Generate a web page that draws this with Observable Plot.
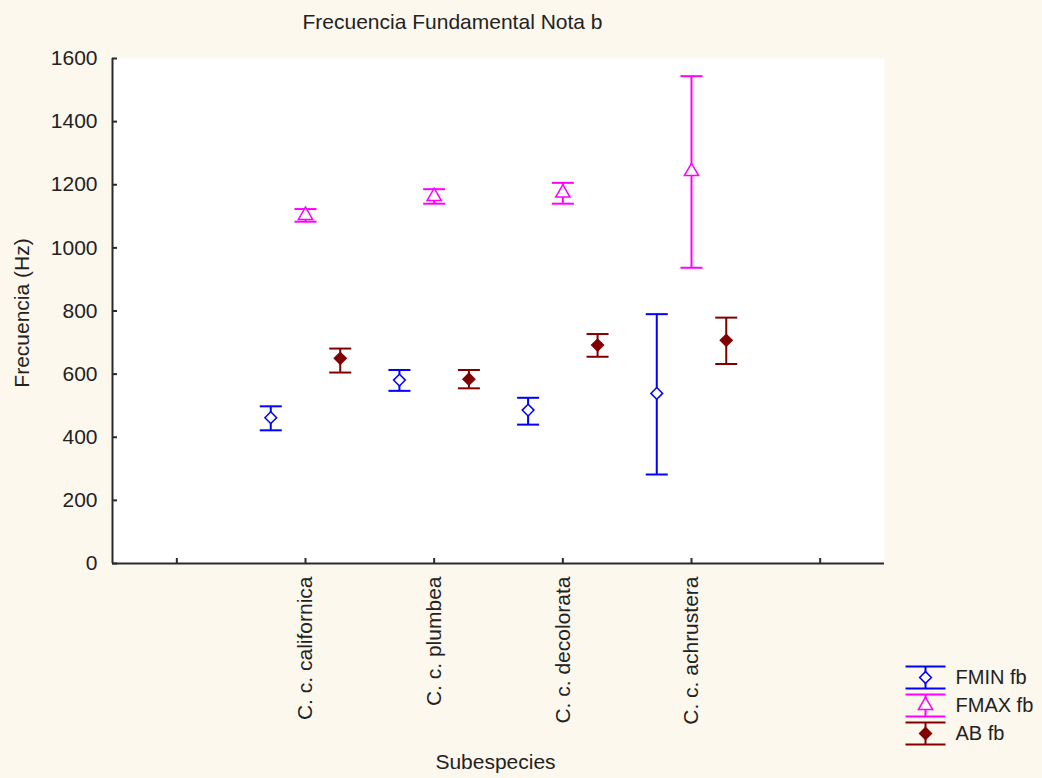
<!DOCTYPE html>
<html>
<head>
<meta charset="utf-8">
<script src="https://cdn.jsdelivr.net/npm/d3@7"></script>
<script src="https://cdn.jsdelivr.net/npm/@observablehq/plot@0.6"></script>
<style>
  html, body { margin: 0; padding: 0; background: #fdf8ee; }
  #chart { position: relative; width: 1042px; height: 778px; }
  #legend { position: absolute; left: 880px; top: 656px; }
</style>
</head>
<body>
<div id="chart"></div>
<script>
// Subspecies on the x axis
const categories = ["C. c. californica", "C. c. plumbea", "C. c. decolorata", "C. c. achrustera"];
const seriesNames = ["FMIN fb", "FMAX fb", "AB fb"];

// Means and interval limits (Hz) per subspecies
const fminMean = [462, 581, 486, 539];
const fminLow  = [422, 547, 440, 282];
const fminHigh = [498, 613, 525, 790];

const fmaxMean = [1103, 1163, 1174, 1242];
const fmaxLow  = [1083, 1140, 1140, 937];
const fmaxHigh = [1123, 1186, 1206, 1544];

const abMean = [650, 584, 692, 707];
const abLow  = [605, 555, 655, 632];
const abHigh = [681, 613, 727, 779];

// Axis ticks
const yTicks = [0, 200, 400, 600, 800, 1000, 1200, 1400, 1600];
const xTickPositions = [0, 1, 2, 3, 4, 5];

// Styling
const seriesColors = ["#0000ff", "#ff00ff", "#800000"];
const seriesSymbols = ["diamond2", "triangle", "diamond2"];
const seriesFills = ["white", "white", "#800000"];
const dodge = [-0.27, 0, 0.27];
const axisColor = "#2a2a2a";
const font = "'Liberation Sans', Arial, sans-serif";

const table = [
  [fminMean, fminLow, fminHigh],
  [fmaxMean, fmaxLow, fmaxHigh],
  [abMean, abLow, abHigh]
];
const rows = seriesNames.flatMap((s, k) =>
  categories.map((c, i) => ({
    series: s, k, category: c, pos: i + 1,
    mean: table[k][0][i], lo: table[k][1][i], hi: table[k][2][i]
  }))
);
const xPos = d => d.pos + dodge[d.k];

// Horizontal whisker cap: a flat line whose half-width is the dot radius
const cap = {
  draw(ctx, size) {
    const r = Math.sqrt(size / Math.PI);
    ctx.moveTo(-r, 0);
    ctx.lineTo(r, 0);
  }
};
// Legend glyph: a full whisker (top cap, stem, bottom cap)
const whisker = {
  draw(ctx, size) {
    const r = Math.sqrt(size / Math.PI);
    const h = 11;
    ctx.moveTo(-r, -h); ctx.lineTo(r, -h);
    ctx.moveTo(-r, h); ctx.lineTo(r, h);
    ctx.moveTo(0, -h); ctx.lineTo(0, h);
  }
};

const chart = Plot.plot({
  width: 1042,
  height: 778,
  marginLeft: 112,
  marginRight: 158,
  marginTop: 58,
  marginBottom: 215,
  style: { background: "transparent", fontSize: "21px", fontFamily: font, color: "#222", overflow: "visible" },
  x: { domain: [-0.5, 5.5], axis: null },
  y: { domain: [0, 1600], axis: null },
  color: { domain: seriesNames, range: seriesColors },
  marks: [
    Plot.frame({ fill: "white", stroke: null }),
    // y axis: labels, then inward ticks
    Plot.axisY(yTicks, { tickSize: 0, tickPadding: 15, tickFormat: d => String(d), label: null }),
    Plot.axisY(yTicks, { tickSize: 5, dx: 5, tickFormat: () => "", label: null, stroke: axisColor, strokeWidth: 2 }),
    // x axis: inward ticks, then rotated category labels
    Plot.axisX(xTickPositions, { tickSize: 5, dy: -5, tickFormat: () => "", label: null, stroke: axisColor, strokeWidth: 2 }),
    Plot.axisX(categories.map((_, i) => i + 1), {
      tickSize: 0, tickPadding: 13, tickRotate: -90,
      tickFormat: i => categories[i - 1], label: null
    }),
    Plot.ruleY([0], { stroke: axisColor, strokeWidth: 2 }),
    Plot.ruleX([-0.5], { stroke: axisColor, strokeWidth: 2 }),
    // whiskers
    Plot.ruleX(rows, { x: xPos, y1: "lo", y2: "hi", stroke: "series", strokeWidth: 2 }),
    Plot.dot(rows, { x: xPos, y: "lo", symbol: cap, r: 11, stroke: "series", strokeWidth: 2 }),
    Plot.dot(rows, { x: xPos, y: "hi", symbol: cap, r: 11, stroke: "series", strokeWidth: 2 }),
    // mean markers
    ...seriesNames.map((s, k) =>
      Plot.dot(rows.filter(d => d.k === k), {
        x: xPos, y: "mean", symbol: seriesSymbols[k], r: 5.3,
        fill: seriesFills[k], stroke: seriesColors[k], strokeWidth: 1.5
      })
    ),
    // titles
    Plot.text(["Frecuencia Fundamental Nota b"], {
      text: d => d, frameAnchor: "top", lineAnchor: "middle", textAnchor: "middle", dy: -36, dx: -46, fill: "#222"
    }),
    Plot.text(["Frecuencia (Hz)"], {
      text: d => d, frameAnchor: "left", textAnchor: "middle", lineAnchor: "middle", rotate: -90, dx: -90, dy: 2, fill: "#222"
    }),
    Plot.text(["Subespecies"], {
      text: d => d, frameAnchor: "bottom", lineAnchor: "middle", textAnchor: "middle", dy: 199, dx: -3, fill: "#222"
    })
  ]
});

const legend = Plot.plot({
  width: 162,
  height: 100,
  margin: 0,
  style: { background: "transparent", fontSize: "20px", fontFamily: font, color: "#222", overflow: "visible" },
  x: { domain: [0, 1], range: [45, 150], axis: null },
  y: { type: "point", domain: seriesNames, range: [20, 77], padding: 0, axis: null },
  marks: [
    ...seriesNames.map((s, k) =>
      Plot.dot([s], { x: 0, y: d => d, symbol: whisker, r: 20, stroke: seriesColors[k], strokeWidth: 2 })
    ),
    ...seriesNames.map((s, k) =>
      Plot.dot([s], { x: 0, y: d => d, symbol: seriesSymbols[k], r: 5.3, fill: seriesFills[k], stroke: seriesColors[k], strokeWidth: 1.5 })
    ),
    Plot.text(seriesNames, { x: 0, y: d => d, text: d => d, dx: 30, textAnchor: "start", fill: "#222" })
  ]
});
legend.id = "legend";

const holder = document.getElementById("chart");
holder.append(chart, legend);
</script>
</body>
</html>
